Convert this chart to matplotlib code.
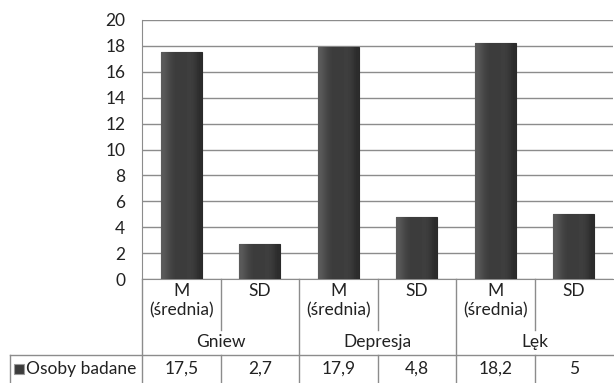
import matplotlib
matplotlib.use("Agg")
import matplotlib.pyplot as plt
import numpy as np
from matplotlib.patches import Rectangle
from matplotlib.transforms import blended_transform_factory

plt.rcParams['font.family'] = ['Lato', 'DejaVu Sans']

# dane
kategorie = ['M\n(średnia)', 'SD', 'M\n(średnia)', 'SD', 'M\n(średnia)', 'SD']
grupy = ['Gniew', 'Depresja', 'Lęk']
wartosci = [17.5, 2.7, 17.9, 4.8, 18.2, 5]
etykiety_wartosci = ['17,5', '2,7', '17,9', '4,8', '18,2', '5']
seria = 'Osoby badane'
yticki = list(range(0, 21, 2))

W, H = 614, 383
fs = 12.5
fig = plt.figure(figsize=(W / 100, H / 100), dpi=100)
# pozycja obszaru wykresu w pikselach
x0, x1, y0, y1 = 142, 613, 20, 279
ax = fig.add_axes([x0 / W, 1 - y1 / H, (x1 - x0) / W, (y1 - y0) / H])

n = len(wartosci)
x = np.arange(n)

bars = ax.bar(x, wartosci, width=0.52, color='#3c3c3c', edgecolor='#2a2a2a',
              linewidth=0.8, zorder=3)

# gradient na slupkach
grad = np.array([[0.36, 0.30, 0.25, 0.235, 0.235, 0.24, 0.25, 0.22, 0.17]])
for b in bars:
    bx, by = b.get_x(), b.get_y()
    im = ax.imshow(grad, cmap='gray', vmin=0, vmax=1, aspect='auto',
                   extent=(bx, bx + b.get_width(), by, by + b.get_height()),
                   zorder=3.5, interpolation='bicubic')
    im.set_clip_path(b)
ax.set_xlim(-0.5, n - 0.5)
ax.set_ylim(0, 20)

ax.set_yticks(yticki)
ax.set_yticklabels([str(t) for t in yticki], fontsize=fs, color='#222222')
ax.tick_params(axis='y', length=0, pad=12)
ax.set_xticks([])
ax.yaxis.grid(True, color='#8c8c8c', linewidth=1)
ax.set_axisbelow(True)
for s in ['top', 'right']:
    ax.spines[s].set_visible(False)
ax.spines['left'].set_color('#8c8c8c')
ax.spines['bottom'].set_color('#8c8c8c')

# tabela danych pod osia
tr = blended_transform_factory(ax.transData, ax.transAxes)
hpx = y1 - y0
def fy(p):
    return (y1 - p) / hpx
def fx(p):
    return (p - x0) / (x1 - x0)

lc = '#8c8c8c'
# linie pionowe
for i in range(n):
    xb = i - 0.5
    if i % 2 == 0:
        ax.plot([xb, xb], [0, fy(383)], color=lc, lw=1, transform=tr, clip_on=False)
    else:
        ax.plot([xb, xb], [0, fy(330)], color=lc, lw=1, transform=tr, clip_on=False)
        ax.plot([xb, xb], [fy(355), fy(383)], color=lc, lw=1, transform=tr, clip_on=False)
# linia pozioma wiersza danych
ax.plot([fx(10), 1.0], [fy(355), fy(355)], color=lc, lw=1, transform=ax.transAxes, clip_on=False)
ax.plot([fx(10), fx(10)], [fy(355), fy(383)], color=lc, lw=1, transform=ax.transAxes, clip_on=False)

tc = '#222222'
for i, k in enumerate(kategorie):
    ax.text(x[i], fy(283), k, transform=tr, ha='center', va='top', fontsize=fs,
            linespacing=1.25, color=tc)
for g, nazwa in enumerate(grupy):
    ax.text(2 * g + 0.5, fy(342), nazwa, transform=tr, ha='center', va='center',
            fontsize=fs, color=tc)
for i, v in enumerate(etykiety_wartosci):
    ax.text(x[i], fy(369), v, transform=tr, ha='center', va='center', fontsize=fs,
            color=tc)

# legenda w wierszu
ax.add_patch(Rectangle((fx(14), fy(374)), fx(24) - fx(14), fy(364) - fy(374),
                       transform=ax.transAxes, facecolor='#3c3c3c',
                       edgecolor='#9a9a9a', lw=0.8, clip_on=False))
ax.text(fx(26), fy(369), seria, transform=ax.transAxes, ha='left',
        va='center', fontsize=fs, color=tc)

fig.savefig('out.png', dpi=100)
